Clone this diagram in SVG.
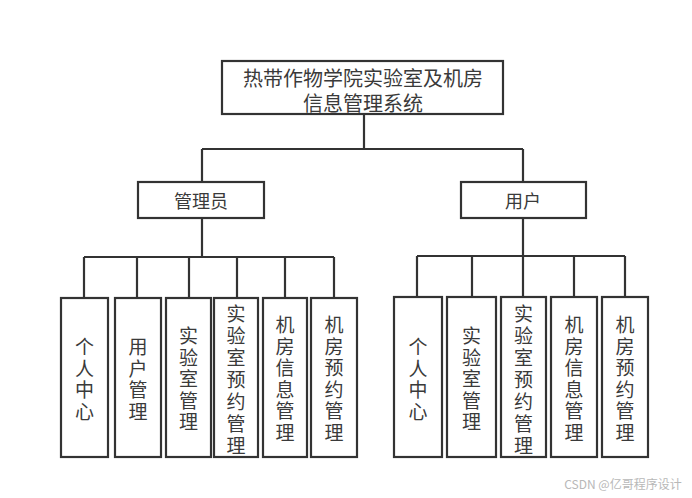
<svg xmlns="http://www.w3.org/2000/svg" width="692" height="498" viewBox="0 0 692 498">
<style>
.box{fill:#fff;stroke:#333;stroke-width:2.2}
.ln{fill:none;stroke:#333;stroke-width:2.2}
text{font-family:"Noto Sans CJK SC","Noto Sans",sans-serif;fill:#3a3a3a;text-anchor:middle;dominant-baseline:central}
.t{font-size:20px}
.m{font-size:18px}
.v{font-size:19px}
.wm{font-size:12px;fill:#b8b8b8}
</style>
<rect width="692" height="498" fill="#fff"/>
<g id="connectors">
<path class="ln" d="M364 114V149M202 149H523M202 149V182M523 149V182"/>
<path class="ln" d="M202 218V257M84 257H334M84 257V298M137 257V298M189 257V298M237 257V298M285 257V298M334 257V298"/>
<path class="ln" d="M523 218V256M417 256H625M417 256V297M472 256V297M523 256V297M574 256V297M625 256V297"/>
</g>
<g id="root"><rect class="box" x="222" y="61" width="281" height="53"/>
<text class="t" x="363" y="77">热带作物学院实验室及机房</text>
<text class="t" x="363" y="102">信息管理系统</text></g>
<g id="admin"><rect class="box" x="138" y="182" width="126" height="36"/><text class="m" x="201" y="200">管理员</text></g>
<g id="user"><rect class="box" x="461" y="182" width="125" height="36"/><text class="m" x="523" y="200">用户</text></g>
<g id="a1"><rect class="box" x="61" y="298" width="47" height="159"/><text class="v" x="84.5"><tspan x="84.5" y="345">个</tspan><tspan x="84.5" y="366.5">人</tspan><tspan x="84.5" y="388">中</tspan><tspan x="84.5" y="409.5">心</tspan></text></g>
<g id="a2"><rect class="box" x="115" y="298" width="46" height="159"/><text class="v"><tspan x="138" y="345">用</tspan><tspan x="138" y="366.5">户</tspan><tspan x="138" y="388">管</tspan><tspan x="138" y="409.5">理</tspan></text></g>
<g id="a3"><rect class="box" x="166" y="298" width="45" height="159"/><text class="v"><tspan x="188.5" y="334">实</tspan><tspan x="188.5" y="355.5">验</tspan><tspan x="188.5" y="377">室</tspan><tspan x="188.5" y="398.5">管</tspan><tspan x="188.5" y="420">理</tspan></text></g>
<g id="a4"><rect class="box" x="214" y="298" width="44" height="159"/><text class="v"><tspan x="236" y="312">实</tspan><tspan x="236" y="334">验</tspan><tspan x="236" y="356">室</tspan><tspan x="236" y="378">预</tspan><tspan x="236" y="400">约</tspan><tspan x="236" y="422">管</tspan><tspan x="236" y="444">理</tspan></text></g>
<g id="a5"><rect class="box" x="263" y="298" width="44" height="159"/><text class="v"><tspan x="285" y="323">机</tspan><tspan x="285" y="344.5">房</tspan><tspan x="285" y="366">信</tspan><tspan x="285" y="387.5">息</tspan><tspan x="285" y="409">管</tspan><tspan x="285" y="430.5">理</tspan></text></g>
<g id="a6"><rect class="box" x="311" y="298" width="46" height="159"/><text class="v"><tspan x="334" y="323">机</tspan><tspan x="334" y="344.5">房</tspan><tspan x="334" y="366">预</tspan><tspan x="334" y="387.5">约</tspan><tspan x="334" y="409">管</tspan><tspan x="334" y="430.5">理</tspan></text></g>
<g id="u1"><rect class="box" x="394" y="297" width="48" height="160"/><text class="v"><tspan x="418" y="345">个</tspan><tspan x="418" y="366.5">人</tspan><tspan x="418" y="388">中</tspan><tspan x="418" y="409.5">心</tspan></text></g>
<g id="u2"><rect class="box" x="447" y="297" width="49" height="160"/><text class="v"><tspan x="471.5" y="334">实</tspan><tspan x="471.5" y="355.5">验</tspan><tspan x="471.5" y="377">室</tspan><tspan x="471.5" y="398.5">管</tspan><tspan x="471.5" y="420">理</tspan></text></g>
<g id="u3"><rect class="box" x="501" y="297" width="45" height="160"/><text class="v"><tspan x="523.5" y="312">实</tspan><tspan x="523.5" y="334">验</tspan><tspan x="523.5" y="356">室</tspan><tspan x="523.5" y="378">预</tspan><tspan x="523.5" y="400">约</tspan><tspan x="523.5" y="422">管</tspan><tspan x="523.5" y="444">理</tspan></text></g>
<g id="u4"><rect class="box" x="551" y="297" width="46" height="160"/><text class="v"><tspan x="574" y="323">机</tspan><tspan x="574" y="344.5">房</tspan><tspan x="574" y="366">信</tspan><tspan x="574" y="387.5">息</tspan><tspan x="574" y="409">管</tspan><tspan x="574" y="430.5">理</tspan></text></g>
<g id="u5"><rect class="box" x="602" y="297" width="46" height="160"/><text class="v"><tspan x="625" y="323">机</tspan><tspan x="625" y="344.5">房</tspan><tspan x="625" y="366">预</tspan><tspan x="625" y="387.5">约</tspan><tspan x="625" y="409">管</tspan><tspan x="625" y="430.5">理</tspan></text></g>
<text class="wm" x="623" y="483">CSDN @亿哥程序设计</text>
</svg>
